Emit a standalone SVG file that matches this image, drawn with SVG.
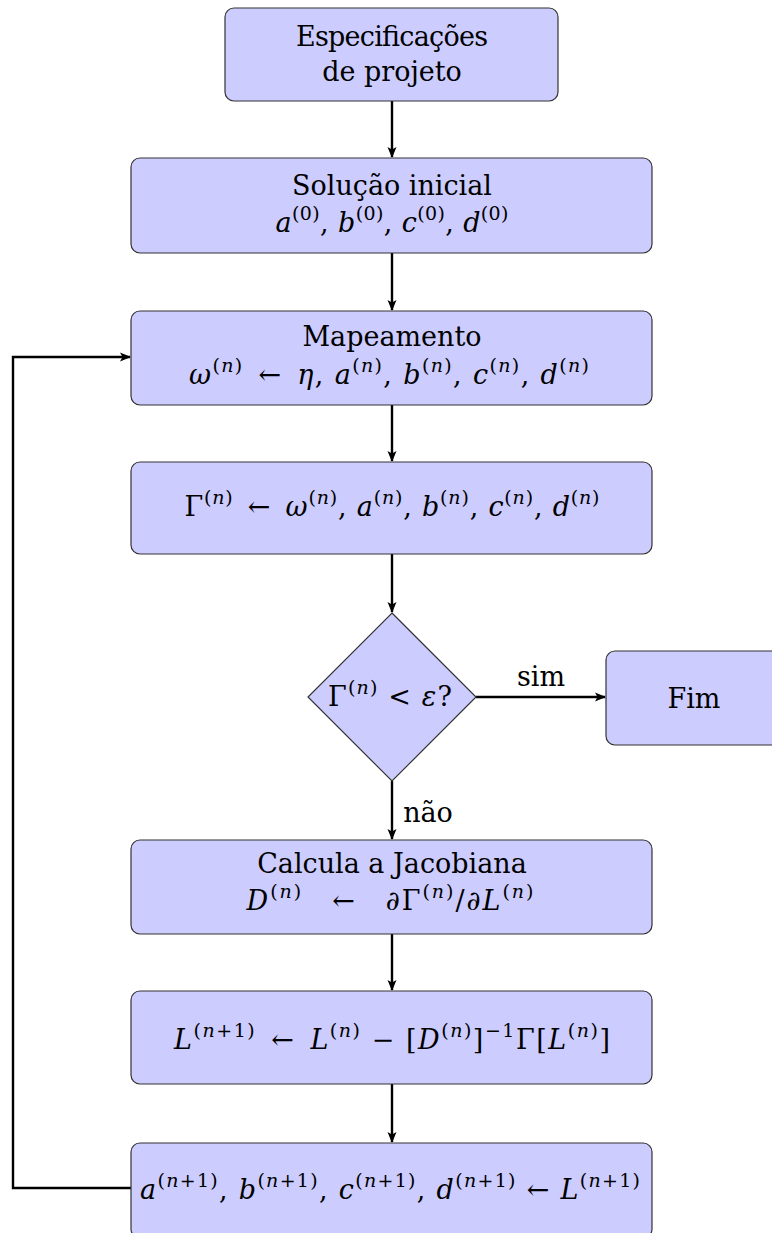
<svg xmlns="http://www.w3.org/2000/svg" width="772" height="1233" viewBox="0 0 772 1233">
<style>
.box{fill:#ccccff;stroke:#333;stroke-width:1.2}
.t{font-family:"DejaVu Serif","Liberation Serif",serif;font-size:27px;fill:#000;text-anchor:middle}
.i{font-style:italic}
.s{font-size:19px}
.c{fill:none;stroke:#000;stroke-width:2.4}
</style>
<defs>
<marker id="ah" markerWidth="12" markerHeight="10" refX="10" refY="5" orient="auto" markerUnits="userSpaceOnUse">
<path d="M0,0.5 L11,5 L0,9.5 L2.5,5 Z" fill="#000"/>
</marker>
</defs>
<g id="connectors">
<line class="c" x1="392" y1="101" x2="392" y2="157" marker-end="url(#ah)"/>
<line class="c" x1="392" y1="253" x2="392" y2="310" marker-end="url(#ah)"/>
<line class="c" x1="392" y1="405" x2="392" y2="461" marker-end="url(#ah)"/>
<line class="c" x1="392" y1="554" x2="392" y2="612" marker-end="url(#ah)"/>
<line class="c" x1="476" y1="697" x2="605" y2="697" marker-end="url(#ah)"/>
<line class="c" x1="392" y1="781" x2="392" y2="839" marker-end="url(#ah)"/>
<line class="c" x1="392" y1="934" x2="392" y2="990" marker-end="url(#ah)"/>
<line class="c" x1="392" y1="1084" x2="392" y2="1142" marker-end="url(#ah)"/>
<polyline class="c" points="131,1188 13,1188 13,357 130,357" marker-end="url(#ah)"/>
<text class="t" x="541" y="686">sim</text>
<text class="t" x="428" y="822">não</text>
</g>
<g id="n1">
<rect class="box" x="225" y="8" width="333" height="93" rx="9"/>
<text class="t" x="392" y="46" textLength="192">Especificações</text>
<text class="t" x="392" y="81">de projeto</text>
</g>
<g id="n2">
<rect class="box" x="131" y="158" width="521" height="95" rx="9"/>
<text class="t" x="392" y="195">Solução inicial</text>
<text class="t" x="392" y="232" textLength="233" lengthAdjust="spacing"><tspan class="i">a</tspan><tspan class="s" dy="-12">(0)</tspan><tspan dy="12">, </tspan><tspan class="i">b</tspan><tspan class="s" dy="-12">(0)</tspan><tspan dy="12">, </tspan><tspan class="i">c</tspan><tspan class="s" dy="-12">(0)</tspan><tspan dy="12">, </tspan><tspan class="i">d</tspan><tspan class="s" dy="-12">(0)</tspan></text>
</g>
<g id="n3">
<rect class="box" x="131" y="311" width="521" height="94" rx="9"/>
<text class="t" x="392" y="346">Mapeamento</text>
<text class="t" x="389" y="384" textLength="400" lengthAdjust="spacing"><tspan class="i">ω</tspan><tspan class="s" dy="-12">(</tspan><tspan class="s i">n</tspan><tspan class="s">)</tspan><tspan dy="12">&#8194;←&#8194;</tspan><tspan class="i">η</tspan><tspan>, </tspan><tspan class="i">a</tspan><tspan class="s" dy="-12">(</tspan><tspan class="s i">n</tspan><tspan class="s">)</tspan><tspan dy="12">, </tspan><tspan class="i">b</tspan><tspan class="s" dy="-12">(</tspan><tspan class="s i">n</tspan><tspan class="s">)</tspan><tspan dy="12">, </tspan><tspan class="i">c</tspan><tspan class="s" dy="-12">(</tspan><tspan class="s i">n</tspan><tspan class="s">)</tspan><tspan dy="12">, </tspan><tspan class="i">d</tspan><tspan class="s" dy="-12">(</tspan><tspan class="s i">n</tspan><tspan class="s">)</tspan></text>
</g>
<g id="n4">
<rect class="box" x="131" y="462" width="521" height="92" rx="9"/>
<text class="t" x="392" y="516" textLength="415" lengthAdjust="spacing"><tspan>Γ</tspan><tspan class="s" dy="-12">(</tspan><tspan class="s i">n</tspan><tspan class="s">)</tspan><tspan dy="12">&#8194;←&#8194;</tspan><tspan class="i">ω</tspan><tspan class="s" dy="-12">(</tspan><tspan class="s i">n</tspan><tspan class="s">)</tspan><tspan dy="12">, </tspan><tspan class="i">a</tspan><tspan class="s" dy="-12">(</tspan><tspan class="s i">n</tspan><tspan class="s">)</tspan><tspan dy="12">, </tspan><tspan class="i">b</tspan><tspan class="s" dy="-12">(</tspan><tspan class="s i">n</tspan><tspan class="s">)</tspan><tspan dy="12">, </tspan><tspan class="i">c</tspan><tspan class="s" dy="-12">(</tspan><tspan class="s i">n</tspan><tspan class="s">)</tspan><tspan dy="12">, </tspan><tspan class="i">d</tspan><tspan class="s" dy="-12">(</tspan><tspan class="s i">n</tspan><tspan class="s">)</tspan></text>
</g>
<g id="n5">
<polygon class="box" points="392,613 476,697 392,781 308,697"/>
<text class="t" x="390" y="706" textLength="124" lengthAdjust="spacing"><tspan>Γ</tspan><tspan class="s" dy="-12">(</tspan><tspan class="s i">n</tspan><tspan class="s">)</tspan><tspan dy="12"> &lt; </tspan><tspan class="i">ε</tspan><tspan>?</tspan></text>
</g>
<g id="n6">
<rect class="box" x="606" y="651" width="184" height="94" rx="9"/>
<text class="t" x="694" y="708">Fim</text>
</g>
<g id="n7">
<rect class="box" x="131" y="840" width="521" height="94" rx="9"/>
<text class="t" x="392" y="873">Calcula a Jacobiana</text>
<text class="t" x="390" y="910" textLength="287" lengthAdjust="spacing"><tspan class="i">D</tspan><tspan class="s" dy="-12">(</tspan><tspan class="s i">n</tspan><tspan class="s">)</tspan><tspan dy="12">&#8195;←&#8195;∂Γ</tspan><tspan class="s" dy="-12">(</tspan><tspan class="s i">n</tspan><tspan class="s">)</tspan><tspan dy="12">/∂</tspan><tspan class="i">L</tspan><tspan class="s" dy="-12">(</tspan><tspan class="s i">n</tspan><tspan class="s">)</tspan></text>
</g>
<g id="n8">
<rect class="box" x="131" y="991" width="521" height="93" rx="9"/>
<text class="t" x="392" y="1049" textLength="436" lengthAdjust="spacing"><tspan class="i">L</tspan><tspan class="s" dy="-12">(</tspan><tspan class="s i">n</tspan><tspan class="s">+1)</tspan><tspan dy="12">&#8194;←&#8194;</tspan><tspan class="i">L</tspan><tspan class="s" dy="-12">(</tspan><tspan class="s i">n</tspan><tspan class="s">)</tspan><tspan dy="12"> − [</tspan><tspan class="i">D</tspan><tspan class="s" dy="-12">(</tspan><tspan class="s i">n</tspan><tspan class="s">)</tspan><tspan dy="12">]</tspan><tspan class="s" dy="-12">−1</tspan><tspan dy="12">Γ[</tspan><tspan class="i">L</tspan><tspan class="s" dy="-12">(</tspan><tspan class="s i">n</tspan><tspan class="s">)</tspan><tspan dy="12">]</tspan></text>
</g>
<g id="n9">
<rect class="box" x="131" y="1143" width="521" height="95" rx="9"/>
<text class="t" x="390" y="1199" textLength="500" lengthAdjust="spacing"><tspan class="i">a</tspan><tspan class="s" dy="-12">(</tspan><tspan class="s i">n</tspan><tspan class="s">+1)</tspan><tspan dy="12">, </tspan><tspan class="i">b</tspan><tspan class="s" dy="-12">(</tspan><tspan class="s i">n</tspan><tspan class="s">+1)</tspan><tspan dy="12">, </tspan><tspan class="i">c</tspan><tspan class="s" dy="-12">(</tspan><tspan class="s i">n</tspan><tspan class="s">+1)</tspan><tspan dy="12">, </tspan><tspan class="i">d</tspan><tspan class="s" dy="-12">(</tspan><tspan class="s i">n</tspan><tspan class="s">+1)</tspan><tspan dy="12"> ← </tspan><tspan class="i">L</tspan><tspan class="s" dy="-12">(</tspan><tspan class="s i">n</tspan><tspan class="s">+1)</tspan></text>
</g>
</svg>
